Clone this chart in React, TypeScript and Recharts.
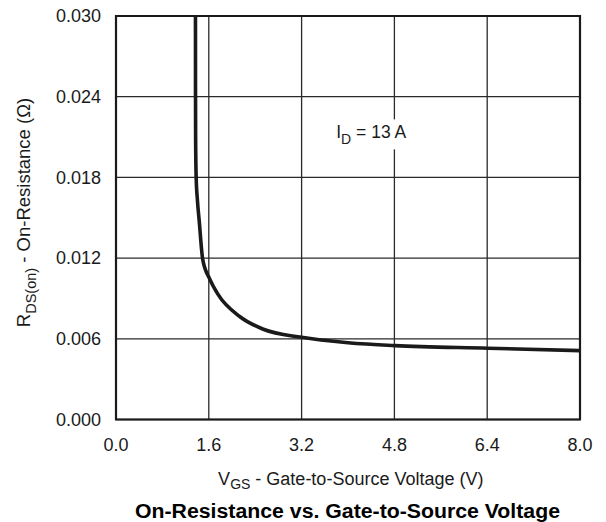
import React from "react";
import {
  LineChart,
  Line,
  XAxis,
  YAxis,
  CartesianGrid,
  ReferenceArea,
  ReferenceDot,
} from "recharts";

// Gate-to-source voltage (V)
const vgs = [1.37, 1.371, 1.373, 1.382, 1.404, 1.434, 1.495, 1.621, 1.759, 2.138, 2.54, 3.2, 4.0, 4.81, 6.41, 8.0];
// On-resistance (ohm)
const rds = [0.03, 0.024, 0.0208, 0.018, 0.0163, 0.0148, 0.0119, 0.0104, 0.0093, 0.00764, 0.00671, 0.00611, 0.00571, 0.00549, 0.0053, 0.00512];

const xTicks = [0, 1.6, 3.2, 4.8, 6.4, 8.0];
const yTicks = [0, 0.006, 0.012, 0.018, 0.024, 0.03];

const annotationX = 4.4;
const annotationY = 0.0209;

const data = vgs.map((v, i) => ({ v, r: rds[i] }));

const FONT = "'Liberation Sans', Arial, Helvetica, sans-serif";
const INK = "#1a1a1a";

const IdLabel = (props: any) => {
  const { cx, cy } = props;
  if (cx == null || cy == null) return null;
  return (
    <g>
      <rect x={cx - 41} y={cy - 19} width={82} height={30} fill="#fff" />
      <text x={cx} y={cy} textAnchor="middle" fontFamily={FONT} fontSize={17.5} fill={INK}>
        I
        <tspan fontSize={14} dy={6}>D</tspan>
        <tspan dy={-6}> = 13 A</tspan>
      </text>
    </g>
  );
};

export default function App() {
  return (
    <div style={{ position: "absolute", left: 0, top: 0, width: 606, height: 522, background: "#fff" }}>
      <LineChart
        width={606}
        height={522}
        data={data}
        margin={{ top: 16, right: 26, bottom: 72.5, left: 0 }}
      >
        <CartesianGrid stroke="#2a2a2a" strokeWidth={1.3} />
        <XAxis
          dataKey="v"
          type="number"
          domain={[0, 8]}
          ticks={xTicks}
          height={30}
          tickFormatter={(v: number) => v.toFixed(1)}
          tickLine={false}
          axisLine={false}
          tickSize={0}
          tickMargin={19}
          tick={{ fontSize: 18, fill: INK, fontFamily: FONT }}
          allowDataOverflow
        />
        <YAxis
          dataKey="r"
          type="number"
          domain={[0, 0.03]}
          ticks={yTicks}
          width={116}
          tickFormatter={(v: number) => v.toFixed(3)}
          tickLine={false}
          axisLine={false}
          tickSize={0}
          tickMargin={15}
          tick={{ fontSize: 18, fill: INK, fontFamily: FONT }}
          allowDataOverflow
        />
        <ReferenceArea x1={0} x2={8} y1={0} y2={0.03} fill="none" stroke={INK} strokeWidth={2.2} />
        <ReferenceDot x={annotationX} y={annotationY} r={0} shape={IdLabel} />
        <Line
          type="monotone"
          dataKey="r"
          stroke={INK}
          strokeWidth={3.6}
          dot={false}
          activeDot={false}
          isAnimationActive={false}
        />
      </LineChart>
      <svg
        width={606}
        height={522}
        style={{ position: "absolute", left: 0, top: 0, pointerEvents: "none" }}
      >
        <text
          transform="translate(29.5,212.5) rotate(-90)"
          textAnchor="middle"
          fontFamily={FONT}
          fontSize={18.5}
          fill={INK}
        >
          R
          <tspan fontSize={14.5} dy={6}>DS(on)</tspan>
          <tspan dy={-6}>{"  -  On-Resistance (\u03A9)"}</tspan>
        </text>
        <text x={350.8} y={485} textAnchor="middle" fontFamily={FONT} fontSize={18} fill={INK}>
          V
          <tspan fontSize={14} dy={4}>GS</tspan>
          <tspan dy={-4}>{"  -  Gate-to-Source Voltage (V)"}</tspan>
        </text>
        <text
          x={347.5}
          y={518}
          textAnchor="middle"
          fontFamily={FONT}
          fontSize={19.5}
          fontWeight="bold"
          fill="#000"
          textLength={425}
          lengthAdjust="spacingAndGlyphs"
        >
          On-Resistance vs. Gate-to-Source Voltage
        </text>
      </svg>
    </div>
  );
}
